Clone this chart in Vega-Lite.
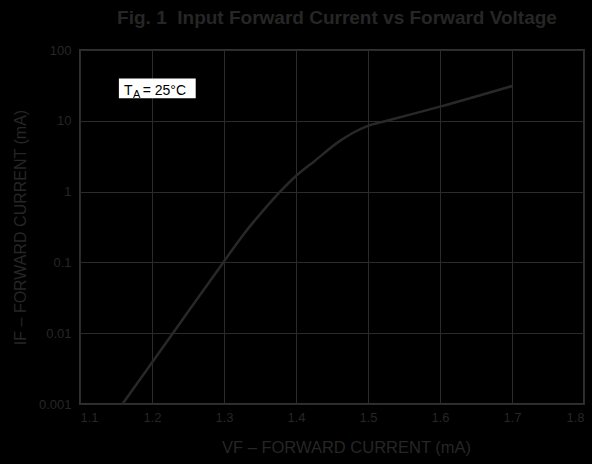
{
  "$schema": "https://vega.github.io/schema/vega-lite/v6.json",
  "width": 504,
  "height": 354,
  "autosize": "none",
  "padding": {"left": 80, "top": 50, "right": 8, "bottom": 60},
  "background": "#000000",
  "config": {
    "view": {"stroke": "#303030", "strokeWidth": 2, "fill": "#000000"},
    "font": "Liberation Sans"
  },
  "title": {
    "text": "Fig. 1\u00a0\u00a0Input Forward Current vs Forward Voltage",
    "font": "Liberation Sans",
    "fontSize": 19,
    "fontWeight": "bold",
    "color": "#262626",
    "anchor": "middle",
    "offset": 16,
    "dx": 5
  },
  "datasets": {
    "curve": [
      {"voltage": 1.159, "current": 0.001},
      {"voltage": 1.229, "current": 0.01},
      {"voltage": 1.299, "current": 0.1},
      {"voltage": 1.329, "current": 0.263},
      {"voltage": 1.352, "current": 0.505},
      {"voltage": 1.378, "current": 1.0},
      {"voltage": 1.4, "current": 1.66},
      {"voltage": 1.426, "current": 2.71},
      {"voltage": 1.461, "current": 5.2},
      {"voltage": 1.48, "current": 6.84},
      {"voltage": 1.5, "current": 8.47},
      {"voltage": 1.526, "current": 10.0},
      {"voltage": 1.6, "current": 15.85},
      {"voltage": 1.7, "current": 31.0}
    ],
    "box": [{"x1": 1.154, "x2": 1.2607, "y1": 39.6, "y2": 20.9}],
    "labels": [
      {"voltage": 1.1611, "current": 23.0, "t": "T", "size": 14},
      {"voltage": 1.1736, "current": 21.2, "t": "A", "size": 11},
      {"voltage": 1.187, "current": 23.0, "t": "= 25°C", "size": 14}
    ]
  },
  "layer": [
    {
      "data": {"name": "curve"},
      "mark": {"type": "line", "color": "#2a2727", "strokeWidth": 2.5, "interpolate": "monotone"},
      "encoding": {
        "x": {
          "field": "voltage", "type": "quantitative",
          "scale": {"domain": [1.1, 1.8], "nice": false, "zero": false},
          "axis": {
            "values": [1.1, 1.2, 1.3, 1.4, 1.5, 1.6, 1.7, 1.8],
            "format": ".1f",
            "title": "VF – FORWARD CURRENT (mA)",
            "titleFont": "Liberation Sans",
            "titleFontSize": 16.5,
            "titleFontWeight": "normal",
            "titleColor": "#262626",
            "titlePadding": 15,
            "titleX": 266,
            "labelFont": "Liberation Sans",
            "labelFontSize": 13,
            "labelColor": "#262626",
            "labelPadding": 7,
            "ticks": false,
            "domain": false,
            "grid": true,
            "gridColor": "#2b2b2b",
            "gridWidth": 1,
            "gridOpacity": 1
          }
        },
        "y": {
          "field": "current", "type": "quantitative",
          "scale": {"type": "log", "domain": [0.001, 100], "nice": false},
          "axis": {
            "values": [0.001, 0.01, 0.1, 1, 10, 100],
            "format": "~g",
            "title": "IF – FORWARD CURRENT (mA)",
            "titleFont": "Liberation Sans",
            "titleFontSize": 16,
            "titleFontWeight": "normal",
            "titleColor": "#262626",
            "titlePadding": 10,
            "labelFont": "Liberation Sans",
            "labelFontSize": 13,
            "labelColor": "#262626",
            "labelPadding": 9,
            "ticks": false,
            "domain": false,
            "grid": true,
            "gridColor": "#2b2b2b",
            "gridWidth": 1,
            "gridOpacity": 1
          }
        }
      }
    },
    {
      "data": {"name": "box"},
      "mark": {"type": "rect", "fill": "#ffffff"},
      "encoding": {
        "x": {"field": "x1", "type": "quantitative"},
        "x2": {"field": "x2"},
        "y": {"field": "y1", "type": "quantitative"},
        "y2": {"field": "y2"}
      }
    },
    {
      "data": {"name": "labels"},
      "mark": {"type": "text", "align": "left", "baseline": "alphabetic", "color": "#000000", "font": "Liberation Sans"},
      "encoding": {
        "x": {"field": "voltage", "type": "quantitative"},
        "y": {"field": "current", "type": "quantitative"},
        "text": {"field": "t"},
        "size": {"field": "size", "type": "quantitative", "scale": null}
      }
    }
  ]
}
